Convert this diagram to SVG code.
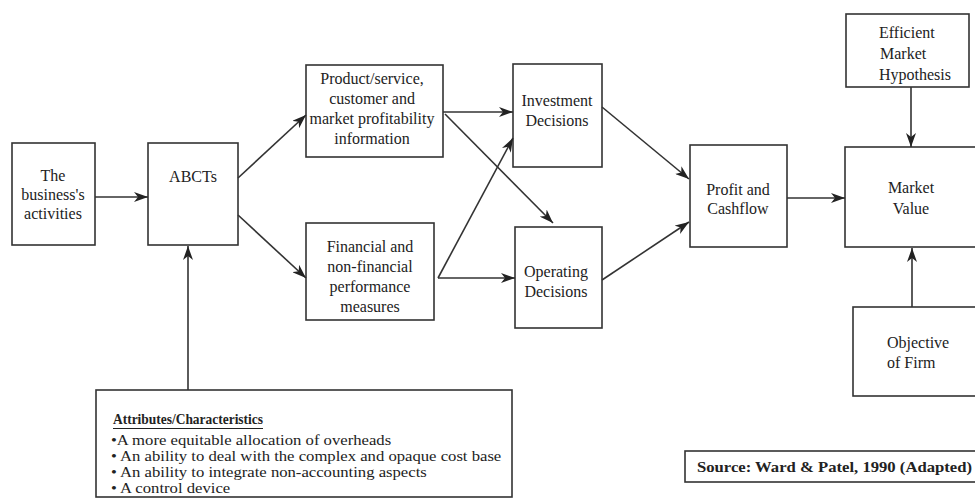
<svg xmlns="http://www.w3.org/2000/svg" width="975" height="499" viewBox="0 0 975 499">
<defs>
<marker id="ah" viewBox="0 0 14 10" refX="14" refY="5" markerWidth="14" markerHeight="10" markerUnits="userSpaceOnUse" orient="auto">
<path d="M0,0 L14,5 L0,10 L4,5 Z" fill="#222"/>
</marker>
<style>
.box{fill:#fff;stroke:#333;stroke-width:1.6}
.t{font-family:"Liberation Serif","Times New Roman",serif;font-size:16px;fill:#222;text-anchor:middle}
.tl{font-family:"Liberation Serif","Times New Roman",serif;font-size:16px;fill:#222}
.a{font-family:"Liberation Serif","Times New Roman",serif;font-size:14.5px;fill:#222}
.c{stroke:#333;stroke-width:1.6;fill:none;marker-end:url(#ah)}
</style>
</defs>
<rect width="975" height="499" fill="#fff"/>

<g id="business">
<rect class="box" x="12" y="143" width="83" height="102"/>
<text class="t" x="53" y="181" font-size="15">The</text>
<text class="t" x="53" y="200" font-size="15">business's</text>
<text class="t" x="53" y="219" font-size="15">activities</text>
</g>

<g id="abcts">
<rect class="box" x="148" y="143" width="90" height="102"/>
<text class="t" x="193" y="182">ABCTs</text>
</g>

<g id="product">
<rect class="box" x="306" y="65" width="137" height="92"/>
<text class="t" x="372" y="84">Product/service,</text>
<text class="t" x="372" y="104">customer and</text>
<text class="t" x="372" y="124">market profitability</text>
<text class="t" x="372" y="144">information</text>
</g>

<g id="financial">
<rect class="box" x="306" y="223" width="128" height="97"/>
<text class="t" x="370" y="252">Financial and</text>
<text class="t" x="370" y="272">non-financial</text>
<text class="t" x="370" y="292">performance</text>
<text class="t" x="370" y="312">measures</text>
</g>

<g id="investment">
<rect class="box" x="513" y="64" width="89" height="103"/>
<text class="t" x="557" y="106">Investment</text>
<text class="t" x="557" y="126">Decisions</text>
</g>

<g id="operating">
<rect class="box" x="515" y="227" width="87" height="101"/>
<text class="t" x="556" y="277">Operating</text>
<text class="t" x="556" y="297">Decisions</text>
</g>

<g id="profit">
<rect class="box" x="690" y="145" width="97" height="102"/>
<text class="t" x="738" y="195">Profit and</text>
<text class="t" x="738" y="214">Cashflow</text>
</g>

<g id="emh">
<rect class="box" x="846" y="14" width="123" height="73"/>
<text class="tl" x="879" y="38">Efficient</text>
<text class="tl" x="880" y="59">Market</text>
<text class="tl" x="879" y="80">Hypothesis</text>
</g>

<g id="market-value">
<rect class="box" x="845" y="147" width="140" height="100"/>
<text class="t" x="911" y="193">Market</text>
<text class="t" x="911" y="214">Value</text>
</g>

<g id="objective">
<rect class="box" x="853" y="307" width="132" height="89"/>
<text class="tl" x="887" y="348">Objective</text>
<text class="tl" x="887" y="368">of Firm</text>
</g>

<g id="attributes">
<rect class="box" x="96" y="390" width="416" height="107"/>
<text class="a" x="113" y="424" font-weight="bold" font-size="15" textLength="150" lengthAdjust="spacingAndGlyphs">Attributes/Characteristics</text>
<line x1="113" y1="428.5" x2="263" y2="428.5" stroke="#222" stroke-width="1.2"/>
<g transform="translate(111,0) scale(1.15,1)">
<text class="a" x="0" y="445">•A more equitable allocation of overheads</text>
<text class="a" x="0" y="461">• An ability to deal with the complex and opaque cost base</text>
<text class="a" x="0" y="477">• An ability to integrate non-accounting aspects</text>
<text class="a" x="0" y="493">• A control device</text>
</g>
</g>

<g id="source">
<rect class="box" x="685" y="451" width="300" height="31"/>
<text class="a" x="697" y="472" font-weight="bold" font-size="14" textLength="275" lengthAdjust="spacingAndGlyphs">Source: Ward &amp; Patel, 1990 (Adapted)</text>
</g>

<g id="connectors">
<line class="c" x1="95" y1="197" x2="148" y2="197"/>
<line class="c" x1="188" y1="390" x2="188" y2="246"/>
<line class="c" x1="238" y1="178" x2="306" y2="115"/>
<line class="c" x1="238" y1="215" x2="306" y2="278"/>
<line class="c" x1="443" y1="112" x2="513" y2="112"/>
<line class="c" x1="445" y1="114" x2="553" y2="223"/>
<line class="c" x1="438" y1="278" x2="513" y2="138"/>
<line class="c" x1="438" y1="278" x2="515" y2="278"/>
<line class="c" x1="602" y1="107" x2="689" y2="179"/>
<line class="c" x1="602" y1="280" x2="689" y2="222"/>
<line class="c" x1="787" y1="198" x2="845" y2="198"/>
<line class="c" x1="911" y1="87" x2="911" y2="147"/>
<line class="c" x1="912" y1="307" x2="912" y2="248"/>
</g>
</svg>
